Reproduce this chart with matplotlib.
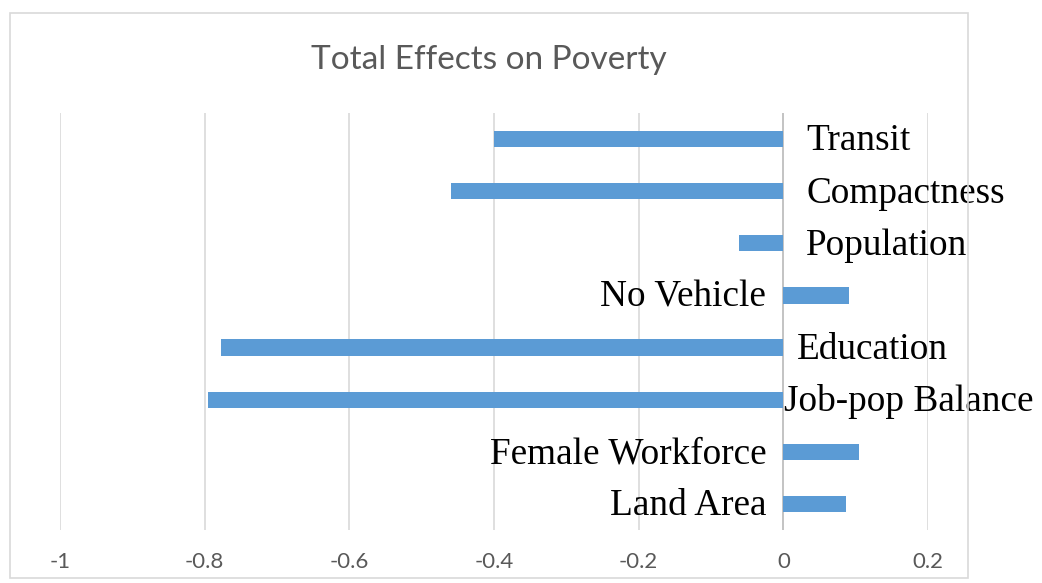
import matplotlib.pyplot as plt
from matplotlib.patches import Rectangle

# total effects on poverty, top to bottom
factors = ["Transit", "Compactness", "Population", "No Vehicle",
           "Education", "Job-pop Balance", "Female Workforce", "Land Area"]
effects = [-0.40, -0.46, -0.061, 0.091, -0.777, -0.795, 0.105, 0.086]
xticks = [-1, -0.8, -0.6, -0.4, -0.2, 0, 0.2]

W, H = 1042, 583
fig = plt.figure(figsize=(W / 100, H / 100), dpi=100)
fig.patch.set_facecolor("white")

# chart frame
fig.patches.append(Rectangle((10 / W, 1 - 578 / H), 958 / W, 565 / H,
                             transform=fig.transFigure, fill=False,
                             edgecolor="#D9D9D9", linewidth=1.2))

ax = fig.add_axes([60 / W, 1 - 530 / H, 868 / W, 417 / H])
ypos = list(range(len(factors)))
ax.barh(ypos, effects, height=0.31, color="#5B9BD5", zorder=3)

ax.set_xlim(-1, 0.2)
ax.set_ylim(len(factors) - 0.5, -0.5)
ax.set_xticks(xticks)
ax.set_xticklabels(["-1", "-0.8", "-0.6", "-0.4", "-0.2", "0", "0.2"])
ax.set_yticks([])
ax.tick_params(axis="x", length=0, pad=16, labelsize=16, labelcolor="#595959")
for lab in ax.get_xticklabels():
    lab.set_fontfamily("Lato")
ax.grid(axis="x", color="#D9D9D9", linewidth=1.2, zorder=0)
for s in ax.spines.values():
    s.set_visible(False)
ax.axvline(0, color="#BFBFBF", linewidth=1.2, zorder=2)

# category names sit beside the zero line, away from the bar
px = 1 / 723.3
for i, (name, v) in enumerate(zip(factors, effects)):
    if v < 0:
        shift = {"Job-pop Balance": 1, "Education": 14}.get(name, 23)
        ax.text(shift * px, i + 0.04, name, ha="left", va="center",
                fontsize=26.8, family="Liberation Serif", color="black",
                zorder=4, clip_on=False)
    else:
        ax.text(-17 * px, i + 0.04, name, ha="right", va="center",
                fontsize=26.8, family="Liberation Serif", color="black",
                zorder=4, clip_on=False)

fig.text(489 / W, 1 - 60 / H, "Total Effects on Poverty", ha="center",
         va="center", fontsize=24, family="Lato", color="#595959")

fig.savefig("out.png", dpi=100)
